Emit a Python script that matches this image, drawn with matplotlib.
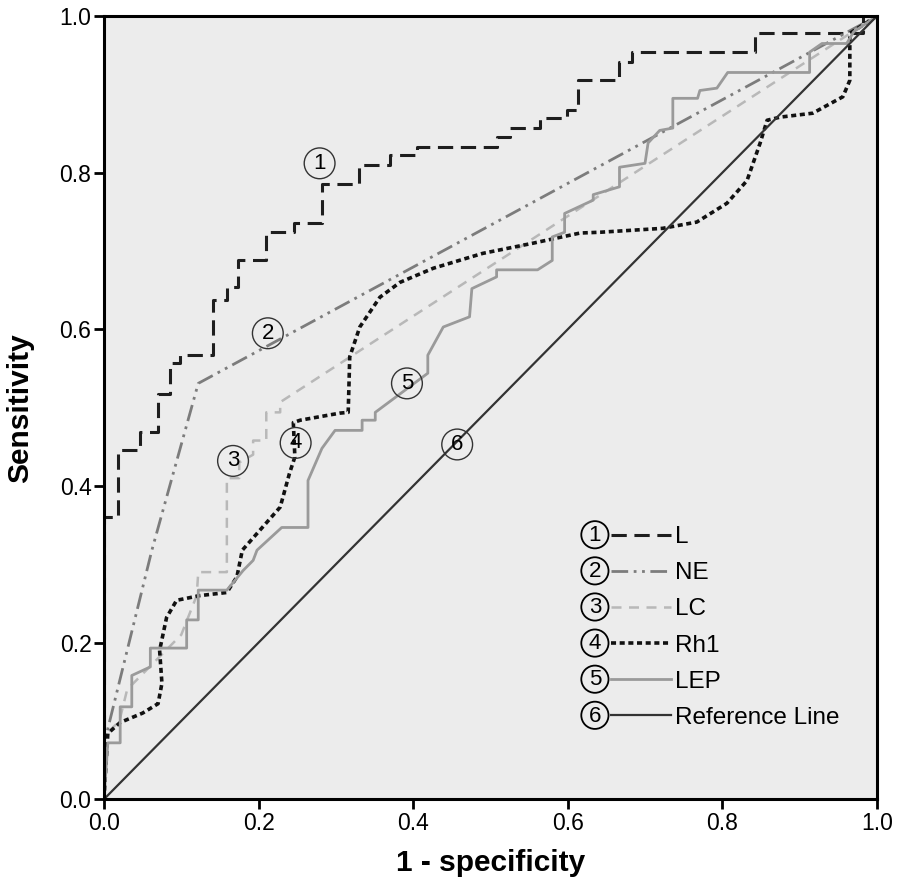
import matplotlib
matplotlib.use("Agg")
import matplotlib.pyplot as plt
from matplotlib.legend_handler import HandlerBase
from matplotlib.lines import Line2D
from matplotlib.patches import Circle
from matplotlib.text import Text

plt.rcParams["font.family"] = ["Liberation Sans", "DejaVu Sans"]

# ROC curves (1 - specificity, sensitivity)
l_x = [0, 0, 0.018, 0.018, 0.047, 0.047, 0.07, 0.07, 0.085, 0.085, 0.098, 0.098, 0.141, 0.141,
       0.159, 0.159, 0.174, 0.174, 0.21, 0.21, 0.246, 0.246, 0.282, 0.282, 0.33, 0.33, 0.37, 0.37,
       0.405, 0.405, 0.508, 0.508, 0.525, 0.525, 0.564, 0.564, 0.599, 0.599, 0.613, 0.613,
       0.667, 0.667, 0.683, 0.683, 0.842, 0.842, 0.982, 0.982, 1.0]
l_y = [0, 0.36, 0.36, 0.446, 0.446, 0.469, 0.469, 0.518, 0.518, 0.557, 0.557, 0.567, 0.567, 0.637,
       0.637, 0.654, 0.654, 0.688, 0.688, 0.724, 0.724, 0.736, 0.736, 0.786, 0.786, 0.81, 0.81,
       0.822, 0.822, 0.833, 0.833, 0.846, 0.846, 0.857, 0.857, 0.87, 0.87, 0.88, 0.88, 0.918,
       0.918, 0.941, 0.941, 0.954, 0.954, 0.978, 0.978, 1.0, 1.0]

ne_x = [0, 0, 0.062, 0.122, 1.0]
ne_y = [0, 0.07, 0.318, 0.531, 1.0]

lc_x = [0, 0, 0.02, 0.03, 0.08, 0.1, 0.12, 0.122, 0.159, 0.159, 0.175, 0.175, 0.193, 0.193,
        0.21, 0.21, 0.228, 0.228, 1.0]
lc_y = [0, 0.08, 0.10, 0.14, 0.19, 0.21, 0.26, 0.29, 0.29, 0.41, 0.41, 0.43, 0.44, 0.458,
        0.458, 0.494, 0.494, 0.507, 1.0]

rh_x = [0, 0.005, 0.021, 0.05, 0.07, 0.075, 0.072, 0.081, 0.094, 0.124, 0.159, 0.172, 0.179,
        0.228, 0.24, 0.247, 0.245, 0.254, 0.305, 0.316, 0.318, 0.331, 0.357, 0.383, 0.426, 0.49,
        0.555, 0.616, 0.642, 0.723, 0.767, 0.806, 0.832, 0.849, 0.858, 0.875, 0.917, 0.956,
        0.965, 0.965, 0.965, 1.0]
rh_y = [0, 0.084, 0.098, 0.11, 0.122, 0.148, 0.19, 0.232, 0.254, 0.26, 0.264, 0.284, 0.318,
        0.373, 0.416, 0.437, 0.481, 0.484, 0.493, 0.494, 0.565, 0.603, 0.641, 0.66, 0.678, 0.697,
        0.71, 0.723, 0.724, 0.729, 0.737, 0.761, 0.79, 0.838, 0.867, 0.871, 0.876, 0.897, 0.918,
        0.965, 0.978, 1.0]

lep_x = [0, 0.005, 0.021, 0.021, 0.036, 0.036, 0.06, 0.06, 0.107, 0.107, 0.122, 0.122, 0.159,
         0.18, 0.193, 0.198, 0.23, 0.264, 0.264, 0.282, 0.299, 0.334, 0.334, 0.351, 0.351, 0.419,
         0.419, 0.439, 0.473, 0.476, 0.508, 0.508, 0.561, 0.58, 0.58, 0.596, 0.596, 0.633, 0.633,
         0.667, 0.667, 0.7, 0.704, 0.719, 0.736, 0.736, 0.768, 0.771, 0.793, 0.807, 0.913, 0.913,
         0.929, 0.961, 0.97, 1.0]
lep_y = [0, 0.072, 0.072, 0.118, 0.118, 0.158, 0.169, 0.193, 0.193, 0.229, 0.229, 0.267, 0.267,
         0.292, 0.305, 0.318, 0.347, 0.347, 0.407, 0.448, 0.471, 0.471, 0.484, 0.484, 0.494, 0.544,
         0.567, 0.603, 0.616, 0.652, 0.667, 0.676, 0.676, 0.688, 0.718, 0.724, 0.748, 0.765, 0.772,
         0.782, 0.807, 0.812, 0.838, 0.854, 0.857, 0.895, 0.895, 0.905, 0.908, 0.928, 0.928, 0.954,
         0.965, 0.965, 0.98, 1.0]

ref_x = [0, 1]
ref_y = [0, 1]

names = ["L", "NE", "LC", "Rh1", "LEP", "Reference Line"]
# where the circled numbers sit on the curves
tag_x = [0.279, 0.212, 0.167, 0.248, 0.392, 0.457]
tag_y = [0.812, 0.595, 0.432, 0.455, 0.531, 0.453]
ticks = [0.0, 0.2, 0.4, 0.6, 0.8, 1.0]


class CircledHandler(HandlerBase):
    def __init__(self, num):
        super().__init__()
        self.num = num

    def create_artists(self, legend, orig_handle, xdescent, ydescent, width, height,
                       fontsize, trans):
        cy = height / 2 - ydescent
        r = fontsize * 0.56
        cx = -xdescent + r
        circ = Circle((cx, cy), r, fill=False, lw=1.3, ec="black", transform=trans)
        txt = Text(cx, cy - 0.5, str(self.num), ha="center", va="center",
                   fontsize=fontsize * 0.92, transform=trans)
        ln = Line2D([cx + r + 2, -xdescent + width], [cy, cy])
        ln.update_from(orig_handle)
        ln.set_transform(trans)
        return [circ, txt, ln]


def main() -> None:
    fig = plt.figure(figsize=(9.04, 8.94), dpi=100)
    ax = fig.add_axes([0.115, 0.106, 0.855, 0.876])
    ax.set_facecolor("#ececec")

    handles = []
    h, = ax.plot(l_x, l_y, color="#1e1e1e", lw=2.2, dashes=(5, 2.5), label=names[0])
    handles.append(h)
    h, = ax.plot(ne_x, ne_y, color="#7c7c7c", lw=2.0, dashes=(6, 2, 1, 2, 1, 2), label=names[1])
    handles.append(h)
    h, = ax.plot(lc_x, lc_y, color="#b8b8b8", lw=1.8, dashes=(4, 3), label=names[2])
    handles.append(h)
    h, = ax.plot(rh_x, rh_y, color="#111111", lw=2.6, dashes=(1.4, 1.0), label=names[3])
    handles.append(h)
    h, = ax.plot(lep_x, lep_y, color="#9a9a9a", lw=2.0, label=names[4])
    handles.append(h)
    h, = ax.plot(ref_x, ref_y, color="#333333", lw=1.6, label=names[5])
    handles.append(h)

    for i, (tx, ty) in enumerate(zip(tag_x, tag_y)):
        ax.text(tx, ty, str(i + 1), ha="center", va="center", fontsize=16,
                bbox=dict(boxstyle="circle,pad=0.22", fc="none", ec="#333333", lw=1.0))

    ax.legend(handles=handles, labels=names,
              handler_map={hd: CircledHandler(i + 1) for i, hd in enumerate(handles)},
              loc="upper left", bbox_to_anchor=(0.605, 0.361), frameon=False,
              fontsize=17.5, handlelength=3.7, handletextpad=0.15, labelspacing=0.58,
              borderaxespad=0)

    ax.set_xlim(0, 1)
    ax.set_ylim(0, 1)
    ax.set_xticks(ticks)
    ax.set_yticks(ticks)
    ax.set_xticklabels([f"{t:.1f}" for t in ticks])
    ax.set_yticklabels([f"{t:.1f}" for t in ticks])
    ax.tick_params(direction="out", length=7, width=2, labelsize=16.5, pad=2)
    for sp in ax.spines.values():
        sp.set_linewidth(2.2)
    ax.set_xlabel("1 - specificity", fontsize=21.5, fontweight="bold", labelpad=10)
    ax.set_ylabel("Sensitivity", fontsize=21.5, fontweight="bold", labelpad=18)

    fig.savefig("out.png", dpi=100)


main() if __name__ == "__main__" else None
